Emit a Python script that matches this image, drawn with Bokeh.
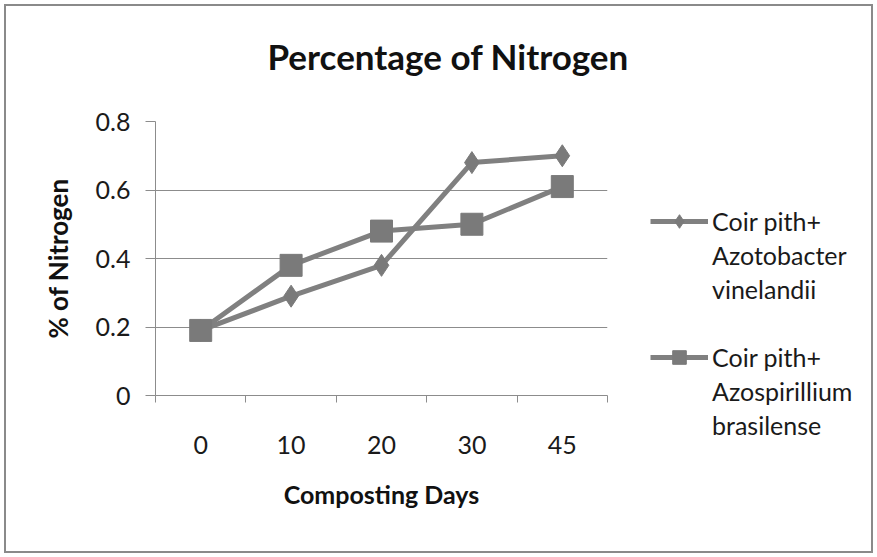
from bokeh.plotting import figure
from bokeh.layouts import row
from bokeh.models import (Range1d, FixedTicker, LinearAxis, Legend, LegendItem,
                          Title, ColumnDataSource, Grid)
from bokeh.embed import file_html
from bokeh.resources import INLINE

# ---- data ----
days = ["0", "10", "20", "30", "45"]
azotobacter = [0.19, 0.29, 0.38, 0.68, 0.70]
azospirillium = [0.19, 0.38, 0.48, 0.50, 0.61]
y_ticks = [0, 0.2, 0.4, 0.6, 0.8]
series1_lines = ["Coir pith+", "Azotobacter", "vinelandii"]
series2_lines = ["Coir pith+", "Azospirillium", "brasilense"]
title_text = "Percentage of Nitrogen"
x_title = "Composting Days"
y_title = "% of Nitrogen"

FONT = "Lato"
GRAY = "#808080"
MARK = "#7a7a7a"
GRID = "#8c8c8c"
TXT = "#1a1a1a"

xpos = [i + 0.5 for i in range(len(days))]
src = ColumnDataSource(dict(x=xpos, a=azotobacter, b=azospirillium))

H = 545
WM, WL = 634, 231

# ---------------- main chart ----------------
p = figure(width=WM, height=H, output_backend="svg", toolbar_location=None,
           x_range=Range1d(0, len(days)), y_range=Range1d(0, 0.8),
           x_axis_type=None, y_axis_type=None,
           min_border_left=149, min_border_right=33,
           min_border_top=115, min_border_bottom=156)
p.frame_align = False
p.outline_line_color = None
p.background_fill_color = "white"
p.border_fill_color = "white"

spacer = Title(text=" ", text_font_size="10px", standoff=32)
p.add_layout(spacer, "above")
title = Title(text=title_text, align="left", offset=112, vertical_align="bottom",
              standoff=0, text_font=FONT, text_font_size="35px",
              text_font_style="bold", text_color="#111111")
p.add_layout(title, "above")

yax = LinearAxis(ticker=FixedTicker(ticks=y_ticks),
                 major_label_overrides={0: "0"})
yax.axis_line_color = GRID
yax.major_tick_line_color = GRID
yax.major_tick_out = 10
yax.major_tick_in = 0
yax.minor_tick_line_color = None
yax.major_label_text_font = FONT
yax.major_label_text_font_size = "25px"
yax.major_label_text_color = TXT
yax.major_label_standoff = 15
yax.axis_label = y_title
yax.axis_label_text_font = FONT
yax.axis_label_text_font_size = "26px"
yax.axis_label_text_font_style = "bold"
yax.axis_label_text_color = "#111111"
yax.axis_label_standoff = 19
p.add_layout(yax, "left")

p.add_layout(Grid(dimension=1, ticker=FixedTicker(ticks=y_ticks),
                  grid_line_color=GRID, grid_line_width=1))

xax1 = LinearAxis(ticker=FixedTicker(ticks=list(range(len(days) + 1))),
                  major_label_overrides={i: "" for i in range(len(days) + 1)})
xax1.axis_line_color = GRID
xax1.major_tick_line_color = GRID
xax1.major_tick_out = 7
xax1.major_tick_in = 0
xax1.minor_tick_line_color = None
xax1.major_label_text_font_size = "1px"
xax1.major_label_standoff = 0
p.add_layout(xax1, "below")

xax2 = LinearAxis(ticker=FixedTicker(ticks=xpos),
                  major_label_overrides={x: d for x, d in zip(xpos, days)})
xax2.axis_line_color = None
xax2.major_tick_line_color = None
xax2.minor_tick_line_color = None
xax2.major_label_text_font = FONT
xax2.major_label_text_font_size = "25px"
xax2.major_label_text_color = TXT
xax2.major_label_standoff = 27
xax2.axis_label = x_title
xax2.axis_label_text_font = FONT
xax2.axis_label_text_font_size = "25px"
xax2.axis_label_text_font_style = "bold"
xax2.axis_label_text_color = "#111111"
xax2.axis_label_standoff = 22
p.add_layout(xax2, "below")

l1 = p.line("x", "a", source=src, line_color=GRAY, line_width=5)
m1 = p.scatter("x", "a", source=src, marker="diamond", size=22,
               fill_color=MARK, line_color=MARK)
l2 = p.line("x", "b", source=src, line_color=GRAY, line_width=5)
m2 = p.scatter("x", "b", source=src, marker="square", size=22,
               fill_color=MARK, line_color=MARK)

# ---------------- legend panel ----------------
# same series drawn again here, but the view range lies away from the data,
# so only their legend samples are visible
pl = figure(frame_width=WL, frame_height=H, output_backend="svg",
            toolbar_location=None,
            x_range=Range1d(-20, -10), y_range=Range1d(-20, -10),
            x_axis_type=None, y_axis_type=None, min_border=0)
pl.frame_align = False
pl.outline_line_color = None
pl.background_fill_color = "white"
pl.border_fill_color = "white"
pl.xgrid.visible = False
pl.ygrid.visible = False

k1 = pl.line("x", "a", source=src, line_color=GRAY, line_width=5)
q1 = pl.scatter("x", "a", source=src, marker="diamond", size=22,
                fill_color=MARK, line_color=MARK)
k2 = pl.line("x", "b", source=src, line_color=GRAY, line_width=5)
q2 = pl.scatter("x", "b", source=src, marker="square", size=22,
                fill_color=MARK, line_color=MARK)

items = [LegendItem(label=series1_lines[0], renderers=[k1, q1])]
items += [LegendItem(label=t, renderers=[]) for t in series1_lines[1:]]
items += [LegendItem(label=" ", renderers=[])]
items += [LegendItem(label=series2_lines[0], renderers=[k2, q2])]
items += [LegendItem(label=t, renderers=[]) for t in series2_lines[1:]]

legend = Legend(items=items, location=(10, 109))
legend.border_line_color = None
legend.background_fill_alpha = 0
legend.padding = 0
legend.margin = 0
legend.spacing = 0
legend.glyph_width = 58
legend.glyph_height = 34
legend.label_standoff = 4
legend.label_height = 30
legend.label_text_font = FONT
legend.label_text_font_size = "25px"
legend.label_text_color = TXT
pl.add_layout(legend, "center")

layout = row(p, pl)
layout.styles = {"border": "2px solid #8a8a8a", "margin": "4px"}

open("out.html", "w").write(file_html(layout, INLINE))
